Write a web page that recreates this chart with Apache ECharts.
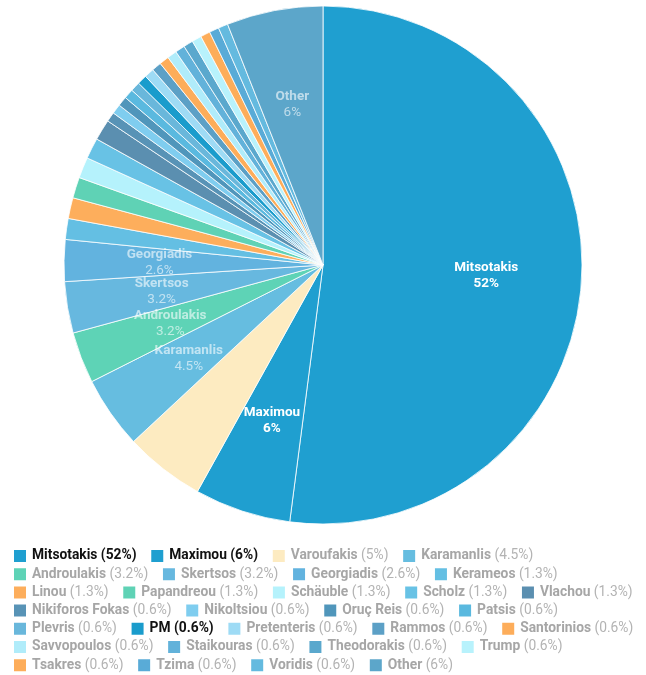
<!DOCTYPE html>
<html>
<head>
<meta charset="utf-8">
<title>Mentions share</title>
<script src="https://cdn.jsdelivr.net/npm/echarts@6/dist/echarts.min.js"></script>
<style>
  html, body { margin: 0; padding: 0; background: #ffffff; }
  #chart { width: 646px; height: 675px; }
</style>
</head>
<body>
<div id="chart"></div>
<script>
// Share of mentions per person (percent)
const names = [
  'Mitsotakis', 'Maximou', 'Varoufakis', 'Karamanlis', 'Androulakis', 'Skertsos',
  'Georgiadis', 'Kerameos', 'Linou', 'Papandreou', 'Schäuble', 'Scholz', 'Vlachou',
  'Nikiforos Fokas', 'Nikoltsiou', 'Oruç Reis', 'Patsis', 'Plevris', 'PM',
  'Pretenteris', 'Rammos', 'Santorinios', 'Savvopoulos', 'Staikouras', 'Theodorakis',
  'Trump', 'Tsakres', 'Tzima', 'Voridis', 'Other'
];
const shares = [
  52, 6, 5, 4.5, 3.2, 3.2,
  2.6, 1.3, 1.3, 1.3, 1.3, 1.3, 1.3,
  0.6, 0.6, 0.6, 0.6, 0.6, 0.6,
  0.6, 0.6, 0.6, 0.6, 0.6, 0.6,
  0.6, 0.6, 0.6, 0.6, 6
];
const colors = [
  '#1f9fd0', '#1f9fd0', '#fdebc1', '#66bde0', '#5ed3b6', '#67b8df',
  '#62b3df', '#64bfe3', '#fdae5c', '#5fd2b5', '#b5f2fc', '#68c2e5', '#5b8fb0',
  '#5893b6', '#7fcdef', '#5096bb', '#5ab9df', '#69b7db', '#1a9ccc',
  '#9edbf5', '#5ca0c6', '#fdad5a', '#b0ecfa', '#62b2da', '#5aa8cd',
  '#b8f2fc', '#fdad5a', '#59abd7', '#64badf', '#5ca6ca'
];
// Entries drawn emphasised (dark legend text, solid white slice label)
const emphasised = ['Mitsotakis', 'Maximou', 'PM'];
// Slices that carry an inside label
const labelled = ['Mitsotakis', 'Maximou', 'Karamanlis', 'Androulakis', 'Skertsos', 'Georgiadis', 'Other'];

const shareOf = {};
names.forEach((n, i) => { shareOf[n] = shares[i]; });

const FONT = 'Roboto, "Noto Sans", sans-serif';
const CX = 323, CY = 265, R = 259;
const LFS = 13.8;   // legend font size
const PFS = 13.5;   // slice label font size

const sliceData = names.map((n, i) => ({
  name: n,
  value: shares[i],
  itemStyle: { color: colors[i] }
}));

const labelData = names.map((n, i) => ({
  name: n,
  value: shares[i],
  label: { show: labelled.indexOf(n) >= 0 }
}));

const chart = echarts.init(document.getElementById('chart'), null, { renderer: 'canvas' });

chart.setOption({
  animation: false,
  backgroundColor: '#ffffff',
  legend: {
    type: 'plain',
    orient: 'horizontal',
    left: 12,
    right: 3,
    top: 548,
    itemWidth: 14,
    itemHeight: 14,
    itemGap: 2.2,
    padding: 0,
    icon: 'rect',
    data: names,
    formatter: function (n) {
      if (emphasised.indexOf(n) >= 0) {
        return '{en|' + n + ' (' + shareOf[n] + '%)}';
      }
      return '{n|' + n + '}{p| (' + shareOf[n] + '%)}';
    },
    textStyle: {
      fontFamily: FONT,
      fontSize: LFS,
      lineHeight: 14,
      rich: {
        en: { fontFamily: FONT, fontSize: LFS, fontWeight: 'bold', color: '#111111', lineHeight: 14, padding: [0, 10.5, 0, 0] },
        n: { fontFamily: FONT, fontSize: LFS, fontWeight: 'bold', color: '#a6a6a6', lineHeight: 14 },
        p: { fontFamily: FONT, fontSize: LFS, fontWeight: 'normal', color: '#b3b3b3', lineHeight: 14, padding: [0, 10.5, 0, 0] }
      }
    }
  },
  series: [
    {
      name: 'Share',
      type: 'pie',
      center: [CX, CY],
      radius: [0, R],
      startAngle: 90,
      clockwise: true,
      avoidLabelOverlap: false,
      label: { show: false },
      labelLine: { show: false },
      emphasis: { disabled: true },
      itemStyle: { borderColor: '#ffffff', borderWidth: 0.8 },
      data: sliceData
    },
    {
      // transparent ring used only to place the slice labels at ~0.62 R
      name: 'Labels',
      type: 'pie',
      center: [CX, CY],
      radius: [R * 0.24, R],
      startAngle: 90,
      clockwise: true,
      silent: true,
      avoidLabelOverlap: false,
      labelLayout: { hideOverlap: false },
      emphasis: { disabled: true },
      itemStyle: { color: 'rgba(0,0,0,0)', borderWidth: 0 },
      labelLine: { show: false },
      label: {
        position: 'inside',
        rotate: 0,
        formatter: function (p) {
          if (emphasised.indexOf(p.name) >= 0) {
            return '{sn|' + p.name + '}\n{sv|' + p.value + '%}';
          }
          return '{fn|' + p.name + '}\n{fv|' + p.value + '%}';
        },
        rich: {
          sn: { fontFamily: FONT, fontSize: PFS, fontWeight: 'bold', color: '#ffffff', lineHeight: 16, align: 'center' },
          sv: { fontFamily: FONT, fontSize: PFS, fontWeight: 'bold', color: '#ffffff', lineHeight: 16, align: 'center' },
          fn: { fontFamily: FONT, fontSize: PFS, fontWeight: 'bold', color: 'rgba(255,255,255,0.6)', lineHeight: 16, align: 'center' },
          fv: { fontFamily: FONT, fontSize: PFS, fontWeight: 'normal', color: 'rgba(255,255,255,0.6)', lineHeight: 16, align: 'center' }
        }
      },
      data: labelData
    }
  ]
});
</script>
</body>
</html>
